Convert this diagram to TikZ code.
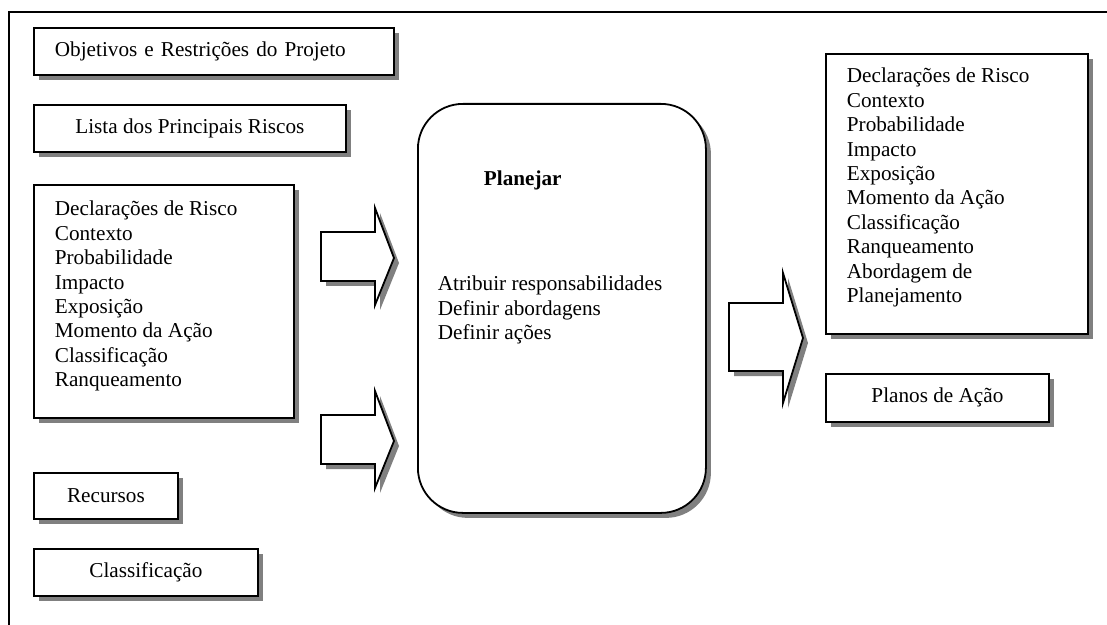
\documentclass[tikz,border=0pt]{standalone}
\usepackage{fontspec}
\setmainfont{Liberation Serif}
\usetikzlibrary{shadows}
\tikzset{
  sombra/.style={drop shadow={shadow xshift=2.5pt, shadow yshift=-2.5pt, fill=black!50, opacity=1}},
  caixa/.style={draw, line width=0.9pt, fill=white, rectangle, anchor=north west, inner ysep=0pt, sombra,
    font=\fontsize{10.6}{12.2}\selectfont},
  seta/.style={draw, line width=0.9pt, fill=white, line join=miter, sombra}
}
\begin{document}
\begin{tikzpicture}[x=0.5pt, y=-0.5pt]
\useasboundingbox (0,0) rectangle (1107,625);
\draw[line width=0.7pt] (9,625) -- (9,12) -- (1107,12);
% entradas
\node[caixa, text width=159pt, inner xsep=10.5pt, align=left, minimum height=23.5pt] (objetivos) at (33,27) {Objetivos e Restrições do Projeto};
\node[caixa, minimum width=156pt, minimum height=23.5pt] (riscos) at (33,104) {Lista dos Principais Riscos};
\node[caixa, inner xsep=10.5pt] (entrada) at (33,184) {\parbox[t][116.5pt][t]{109pt}{\rule{0pt}{15.5pt}Declarações de Risco\\ Contexto\\ Probabilidade\\ Impacto\\ Exposição\\ Momento da Ação\\ Classificação\\ Ranqueamento}};
\node[caixa, minimum width=72pt, minimum height=23pt] (recursos) at (33,472) {Recursos};
\node[caixa, minimum width=112pt, minimum height=23.5pt] (classif) at (33,548) {Classificação};
% processo
\node[caixa, rounded corners=22.5pt, inner xsep=10pt] (planejar) at (417,103) {\parbox[t][204.5pt][t]{124pt}{\rule{0pt}{41pt}\hspace*{23pt}\textbf{Planejar}\\[40.3pt] Atribuir responsabilidades\\ Definir abordagens\\ Definir ações}};
% saidas
\node[caixa, inner xsep=10.5pt] (saida) at (825,53) {\parbox[t][140pt][t]{110pt}{\rule{0pt}{14.5pt}Declarações de Risco\\ Contexto\\ Probabilidade\\ Impacto\\ Exposição\\ Momento da Ação\\ Classificação\\ Ranqueamento\\ Abordagem de\\ Planejamento}};
\node[caixa, minimum width=111.5pt, minimum height=24pt] (planos) at (825,373) {Planos de Ação};
% setas
\draw[seta] (321,232) -- (375,232) -- (375,208) -- (394,258) -- (375,305) -- (375,281) -- (321,281) -- cycle;
\draw[seta] (321,415) -- (375,415) -- (375,391) -- (394,441) -- (375,488) -- (375,464) -- (321,464) -- cycle;
\draw[seta] (729,303) -- (783,303) -- (783,273) -- (803,338) -- (783,403) -- (783,371) -- (729,371) -- cycle;
\end{tikzpicture}
\end{document}
